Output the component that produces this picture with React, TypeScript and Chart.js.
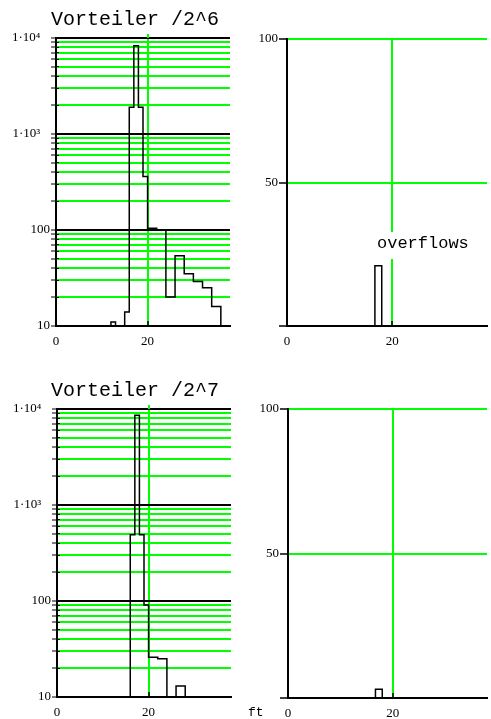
import React, { useEffect, useRef } from "react";
import { Chart, registerables } from "chart.js";

Chart.register(...registerables);

// ---------------- data ----------------
const binEdges = [11, 12, 13, 14, 15, 16, 17, 18, 19, 20, 21, 22, 23, 24, 25, 26, 27, 28, 29, 30, 31, 32, 33, 34, 35, 36, 37];
const counts2p6 = [0, 11, 0, 0, 14, 1900, 8300, 1900, 360, 104, 104, 100, 100, 20, 20, 54, 54, 35, 35, 29, 29, 25, 25, 16, 16, 0];
const counts2p7 = [0, 0, 0, 0, 0, 490, 8600, 490, 91, 26, 26, 25, 25, 0, 0, 13, 13, 0, 0, 0, 0, 0, 0, 0, 0, 0];
const overflowEdges = [16.7, 18];
const overflows2p6 = [21];
const overflows2p7 = [3];
const titles = ["Vorteiler /2^6", "Vorteiler /2^7"];
const logTicks = [
  10, 20, 30, 40, 50, 60, 70, 80, 90,
  100, 200, 300, 400, 500, 600, 700, 800, 900,
  1000, 2000, 3000, 4000, 5000, 6000, 7000, 8000, 9000,
  10000,
];
const logLabels: Record<number, string> = { 10: "10", 100: "100", 1000: "1·10³   ", 10000: "1·10⁴   " };
const linTicks = [0, 50, 100];
const linLabels: Record<number, string> = { 50: "50", 100: "100" };
const xTicks = [0, 20];
const xMin = 0;
const xMax = 38;
const noteText = "overflows";
const axisName = "ft";

// ---------------- styles ----------------
const GREEN = "#00ff00";
const BLACK = "#000000";
const NONE = "rgba(0,0,0,0)";
const SERIF = '"Liberation Serif", "Times New Roman", serif';
const MONO = '"Liberation Mono", "Courier New", monospace';
const GRID_W = 2;
const AXIS_W = 2;
const LINE_W = 1.5;

const align = (p: number) => Math.round(p - 0.5) + 0.5;

// histogram outline from bin edges and counts; empty bins sit on the baseline
function outline(edges: number[], counts: number[], base: number) {
  const pts: { x: number; y: number }[] = [];
  let prev = base;
  counts.forEach((c, i) => {
    const v = c > 0 ? c : base;
    pts.push({ x: edges[i], y: prev });
    pts.push({ x: edges[i], y: v });
    prev = v;
  });
  pts.push({ x: edges[counts.length], y: prev });
  pts.push({ x: edges[counts.length], y: base });
  return pts;
}

type Decor = {
  title?: string;
  titleX?: number;
  titleY?: number;
  log?: boolean;
  note?: boolean;
  axisName?: boolean;
};

function decorPlugin(d: Decor) {
  return {
    id: "decor",
    afterDatasetsDraw(chart: any) {
      const { ctx, chartArea: a, scales } = chart;
      const x20 = Math.round(scales.x.getPixelForValue(xTicks[1]));
      ctx.save();
      if (d.log) {
        ctx.strokeStyle = GREEN;
        ctx.lineWidth = GRID_W;
        ctx.beginPath();
        ctx.moveTo(x20, a.top);
        ctx.lineTo(x20, a.top - 4);
        ctx.stroke();
      }
      ctx.strokeStyle = BLACK;
      ctx.lineWidth = 1.5;
      ctx.beginPath();
      ctx.moveTo(x20, a.bottom);
      ctx.lineTo(x20, a.bottom - 5);
      ctx.stroke();
      if (d.log) {
        ctx.lineWidth = 1;
        ctx.beginPath();
        for (const v of logTicks) {
          const y = align(scales.y.getPixelForValue(v));
          ctx.moveTo(a.left, y);
          ctx.lineTo(a.left + 3, y);
        }
        ctx.stroke();
      }
      ctx.fillStyle = BLACK;
      ctx.textBaseline = "alphabetic";
      ctx.textAlign = "left";
      if (d.title) {
        ctx.font = `20px ${MONO}`;
        ctx.fillText(d.title, d.titleX!, d.titleY!);
      }
      if (d.note) {
        ctx.fillStyle = "#ffffff";
        ctx.fillRect(131, 232, 97, 27);
        ctx.fillStyle = BLACK;
        ctx.font = `17px ${MONO}`;
        ctx.fillText(noteText, 132, 248);
      }
      if (d.axisName) {
        ctx.font = `13px ${MONO}`;
        ctx.fillText(axisName, 3, 351);
      }
      ctx.restore();
    },
  };
}

type PanelGeom = {
  left: number;
  top: number;
  width: number;
  height: number;
  yWidth: number;
  xHeight: number;
  padTop: number;
  padRight: number;
};

function xScale(xHeight: number) {
  return {
    type: "linear",
    min: xMin,
    max: xMax,
    afterBuildTicks: (s: any) => {
      s.ticks = xTicks.map((v) => ({ value: v }));
    },
    afterFit: (s: any) => {
      s.height = xHeight;
    },
    grid: {
      color: xTicks.map((v) => (v === 20 ? GREEN : NONE)),
      lineWidth: GRID_W,
      drawTicks: false,
    },
    border: { color: BLACK, width: AXIS_W },
    ticks: {
      autoSkip: false,
      maxRotation: 0,
      padding: 8,
      color: BLACK,
      font: { family: SERIF, size: 13 },
    },
  };
}

const baseOptions = (g: PanelGeom) => ({
  animation: false,
  responsive: false,
  layout: { padding: { left: 0, right: g.padRight, top: g.padTop, bottom: 0 } },
  plugins: { legend: { display: false }, tooltip: { enabled: false }, title: { display: false } },
});

const histDataset = (data: { x: number; y: number }[]) => ({
  data,
  borderColor: BLACK,
  borderWidth: LINE_W,
  pointRadius: 0,
  tension: 0,
  fill: false,
});

function logConfig(g: PanelGeom, counts: number[], d: Decor) {
  return {
    type: "line",
    data: { datasets: [histDataset(outline(binEdges, counts, logTicks[0]))] },
    options: {
      ...baseOptions(g),
      scales: {
        x: xScale(g.xHeight),
        y: {
          type: "logarithmic",
          min: logTicks[0],
          max: logTicks[logTicks.length - 1],
          afterBuildTicks: (s: any) => {
            s.ticks = logTicks.map((v) => ({ value: v }));
          },
          afterFit: (s: any) => {
            s.width = g.yWidth;
          },
          grid: {
            color: logTicks.map((v) => (logLabels[v] ? BLACK : GREEN)),
            lineWidth: GRID_W,
            drawTicks: true,
            tickLength: 5,
            tickColor: BLACK,
            tickWidth: 1,
          },
          border: { color: BLACK, width: AXIS_W },
          ticks: {
            autoSkip: false,
            padding: 1,
            color: BLACK,
            font: { family: SERIF, size: 13 },
            major: { enabled: false },
            callback: (v: any) => logLabels[Number(v)] ?? "",
          },
        },
      },
    },
    plugins: [decorPlugin(d)],
  };
}

function linConfig(g: PanelGeom, values: number[], d: Decor) {
  return {
    type: "line",
    data: { datasets: [histDataset(outline(overflowEdges, values, 0))] },
    options: {
      ...baseOptions(g),
      scales: {
        x: xScale(g.xHeight),
        y: {
          type: "linear",
          min: 0,
          max: 100,
          afterBuildTicks: (s: any) => {
            s.ticks = linTicks.map((v) => ({ value: v }));
          },
          afterFit: (s: any) => {
            s.width = g.yWidth;
          },
          grid: {
            color: linTicks.map((v) => (v !== 0 ? GREEN : NONE)),
            lineWidth: GRID_W,
            drawTicks: true,
            tickLength: 8,
            tickColor: BLACK,
            tickWidth: 1.5,
          },
          border: { color: BLACK, width: AXIS_W },
          ticks: {
            autoSkip: false,
            padding: 1,
            color: BLACK,
            font: { family: SERIF, size: 13 },
            callback: (v: any) => linLabels[Number(v)] ?? "",
          },
        },
      },
    },
    plugins: [decorPlugin(d)],
  };
}

function Panel({ g, config }: { g: PanelGeom; config: any }) {
  const ref = useRef<HTMLCanvasElement | null>(null);
  useEffect(() => {
    if (!ref.current) return;
    const chart = new Chart(ref.current, config);
    return () => chart.destroy();
  }, [g, config]);
  return (
    <canvas
      ref={ref}
      width={g.width}
      height={g.height}
      style={{ position: "absolute", left: g.left, top: g.top, width: g.width, height: g.height }}
    />
  );
}

const gTL: PanelGeom = { left: 0, top: 0, width: 245, height: 355, yWidth: 56, xHeight: 29, padTop: 38, padRight: 15 };
const gBL: PanelGeom = { left: 0, top: 365, width: 245, height: 354, yWidth: 57, xHeight: 22, padTop: 44, padRight: 14 };
const gTR: PanelGeom = { left: 245, top: 0, width: 246, height: 355, yWidth: 42, xHeight: 29, padTop: 39, padRight: 4 };
const gBR: PanelGeom = { left: 245, top: 365, width: 246, height: 354, yWidth: 43, xHeight: 21, padTop: 44, padRight: 4 };

const cTL = logConfig(gTL, counts2p6, { title: titles[0], titleX: 51, titleY: 25, log: true });
const cBL = logConfig(gBL, counts2p7, { title: titles[1], titleX: 51, titleY: 31, log: true });
const cTR = linConfig(gTR, overflows2p6, { note: true });
const cBR = linConfig(gBR, overflows2p7, { axisName: true });

export default function App() {
  return (
    <div style={{ position: "absolute", left: 0, top: 0, width: 491, height: 719, background: "#fff", overflow: "hidden" }}>
      <Panel g={gTL} config={cTL} />
      <Panel g={gBL} config={cBL} />
      <Panel g={gTR} config={cTR} />
      <Panel g={gBR} config={cBR} />
    </div>
  );
}
